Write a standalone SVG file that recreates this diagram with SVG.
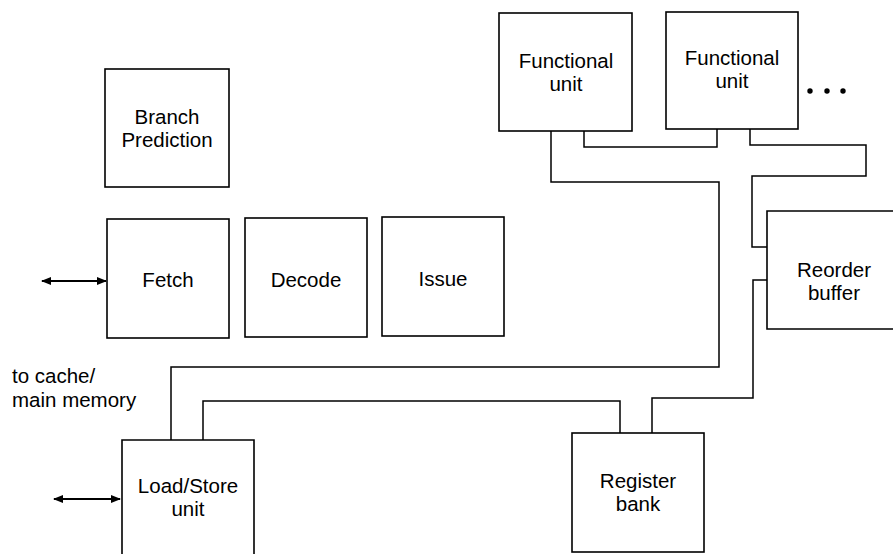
<svg xmlns="http://www.w3.org/2000/svg" width="893" height="554" viewBox="0 0 893 554">
<defs>
<style>
.box{fill:#fff;stroke:#000;stroke-width:1.6}
.wire{fill:none;stroke:#000;stroke-width:1.5}
.arr{fill:none;stroke:#000;stroke-width:2}
text{font-family:"Liberation Sans",Arial,sans-serif;font-size:20.5px;fill:#000}
.c{text-anchor:middle}
</style>
<marker id="ah" viewBox="0 0 10 10" refX="9" refY="5" markerWidth="5" markerHeight="5" orient="auto-start-reverse" markerUnits="strokeWidth">
<path d="M0,1 L10,5 L0,9 z" fill="#000"/>
</marker>
</defs>
<rect width="893" height="554" fill="#fff"/>
<g id="connectors">
<path class="wire" d="M551,131 V182 H719 V367 H171 V440"/>
<path class="wire" d="M584,131 V147 H717 V129"/>
<path class="wire" d="M750,129 V145 H866 V176 H752 V247 H767"/>
<path class="wire" d="M767,280 H753 V398 H652 V433"/>
<path class="wire" d="M620,433 V401 H203 V440"/>
<path class="arr" d="M42,281 H106" marker-start="url(#ah)" marker-end="url(#ah)"/>
<path class="arr" d="M54,499 H120" marker-start="url(#ah)" marker-end="url(#ah)"/>
</g>
<g id="branch-prediction">
<rect class="box" x="105" y="69" width="124" height="118"/>
<text class="c" x="167" y="124">Branch</text>
<text class="c" x="167" y="147">Prediction</text>
</g>
<g id="fetch">
<rect class="box" x="107" y="219" width="122" height="119"/>
<text class="c" x="168" y="287">Fetch</text>
</g>
<g id="decode">
<rect class="box" x="245" y="218" width="122" height="119"/>
<text class="c" x="306" y="287">Decode</text>
</g>
<g id="issue">
<rect class="box" x="382" y="217" width="122" height="119"/>
<text class="c" x="443" y="286">Issue</text>
</g>
<g id="functional-unit-1">
<rect class="box" x="499" y="13" width="133" height="118"/>
<text class="c" x="566" y="68">Functional</text>
<text class="c" x="566" y="91">unit</text>
</g>
<g id="functional-unit-2">
<rect class="box" x="666" y="12" width="132" height="117"/>
<text class="c" x="732" y="65">Functional</text>
<text class="c" x="732" y="88">unit</text>
</g>
<g id="ellipsis">
<circle cx="810" cy="91" r="2.7"/>
<circle cx="827" cy="91" r="2.7"/>
<circle cx="843" cy="91" r="2.7"/>
</g>
<g id="reorder-buffer">
<path class="box" d="M895,211 H767 V329 H895"/>
<text class="c" x="834" y="277">Reorder</text>
<text class="c" x="834" y="300">buffer</text>
</g>
<g id="memory-label">
<text x="12" y="383">to cache/</text>
<text x="12" y="407">main memory</text>
</g>
<g id="load-store-unit">
<path class="box" d="M122,556 V440 H254 V556"/>
<text class="c" x="188" y="493">Load/Store</text>
<text class="c" x="188" y="516">unit</text>
</g>
<g id="register-bank">
<rect class="box" x="572" y="433" width="132" height="119"/>
<text class="c" x="638" y="488">Register</text>
<text class="c" x="638" y="511">bank</text>
</g>
</svg>
